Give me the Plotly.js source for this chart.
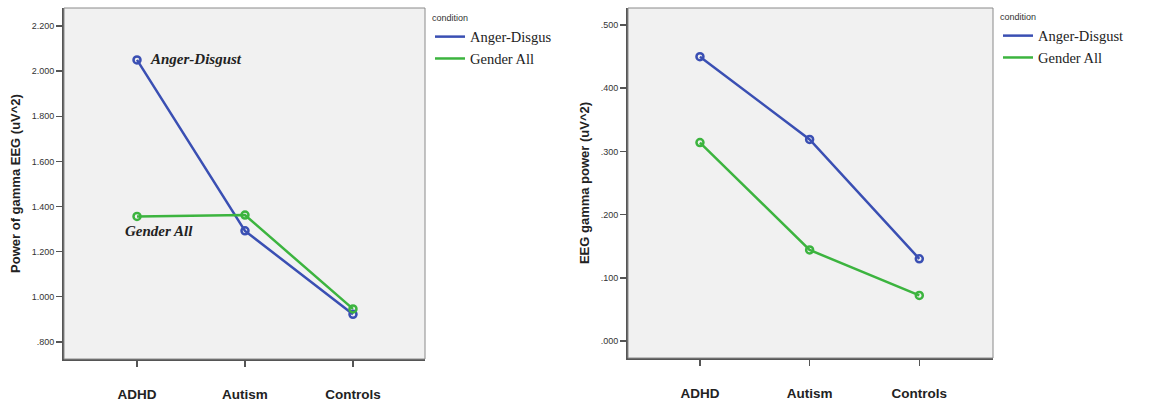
<!DOCTYPE html>
<html>
<head>
<meta charset="utf-8">
<script src="https://cdn.plot.ly/plotly-3.0.1.min.js"></script>
<style>html,body{margin:0;padding:0;background:#fff;}#chart{width:1151px;height:407px;}</style>
</head>
<body>
<div id="chart"></div>
<script>
const groups = ["ADHD", "Autism", "Controls"];
const leftAngerDisgust = [2.050, 1.292, 0.922];
const leftGenderAll = [1.356, 1.362, 0.946];
const rightAngerDisgust = [0.450, 0.319, 0.130];
const rightGenderAll = [0.314, 0.144, 0.072];
const leftTickVals = [0.8, 1.0, 1.2, 1.4, 1.6, 1.8, 2.0, 2.2];
const leftTickText = [".800", "1.000", "1.200", "1.400", "1.600", "1.800", "2.000", "2.200"];
const rightTickVals = [0.0, 0.1, 0.2, 0.3, 0.4, 0.5];
const rightTickText = [".000", ".100", ".200", ".300", ".400", ".500"];
const seriesNames = ["Anger-Disgus", "Gender All"];
const seriesNamesRight = ["Anger-Disgust", "Gender All"];

const BLUE = "#3a4fb3";
const GREEN = "#3cb43f";
const W = 1151, H = 407;

function lineTrace(x, y, color, name, xa, ya, legend, show) {
  return {x: x, y: y, type: "scatter", mode: "lines", name: name,
    line: {color: color, width: 2.5}, xaxis: xa, yaxis: ya, legend: legend,
    showlegend: show, hoverinfo: "skip"};
}
function markerTrace(x, y, color, xa, ya) {
  return {x: x, y: y, type: "scatter", mode: "markers", showlegend: false,
    marker: {symbol: "circle-open", size: 7, color: color, line: {color: color, width: 2.5}},
    xaxis: xa, yaxis: ya, hoverinfo: "skip"};
}

const data = [
  lineTrace(groups, leftAngerDisgust, BLUE, seriesNames[0], "x", "y", "legend", true),
  lineTrace(groups, leftGenderAll, GREEN, seriesNames[1], "x", "y", "legend", true),
  markerTrace(groups, leftAngerDisgust, BLUE, "x", "y"),
  markerTrace(groups, leftGenderAll, GREEN, "x", "y"),
  lineTrace(groups, rightAngerDisgust, BLUE, seriesNamesRight[0], "x2", "y2", "legend2", true),
  lineTrace(groups, rightGenderAll, GREEN, seriesNamesRight[1], "x2", "y2", "legend2", true),
  markerTrace(groups, rightAngerDisgust, BLUE, "x2", "y2"),
  markerTrace(groups, rightGenderAll, GREEN, "x2", "y2")
];

const tickFont = {family: "Liberation Sans, Arial", size: 9, color: "#333"};
const catFont = {family: "Liberation Sans, Arial", size: 13.5, color: "#222", weight: "bold"};
const titleFont = {family: "Liberation Sans, Arial", size: 13, color: "#222", weight: "bold"};

function xAxis(domain, range) {
  return {domain: domain, type: "category", range: range, showline: true, linecolor: "#555",
    linewidth: 2, ticks: "outside", ticklen: 6, tickcolor: "#555", tickwidth: 1.5,
    showgrid: false, zeroline: false, tickfont: catFont, ticklabelstandoff: 16, fixedrange: true};
}
function yAxis(domain, range, vals, text, title, anchor) {
  return {domain: domain, range: range, showline: true, linecolor: "#555", linewidth: 2,
    ticks: "outside", ticklen: 6, tickcolor: "#555", tickwidth: 1.5, showgrid: false,
    zeroline: false, tickmode: "array", tickvals: vals, ticktext: text, tickfont: tickFont,
    anchor: anchor, automargin: false,
    title: {text: title, font: titleFont, standoff: 8}, fixedrange: true};
}

const leftX = [64 / W, 425 / W], rightX = [628 / W, 993 / W];
const leftY = [1 - 359 / H, 1 - 8 / H], rightY = [1 - 358 / H, 1 - 8 / H];

const legendCommon = {
  yanchor: "top", xanchor: "left", bgcolor: "rgba(0,0,0,0)",
  font: {family: "Liberation Serif, Times New Roman", size: 14.5, color: "#222"},
  title: {text: "condition", font: {family: "Liberation Sans, Arial", size: 9, color: "#333"}},
  tracegroupgap: 0, itemwidth: 30
};

const layout = {
  width: W, height: H, margin: {l: 0, r: 0, t: 0, b: 0},
  paper_bgcolor: "#ffffff", plot_bgcolor: "#f1f1f1",
  xaxis: Object.assign(xAxis(leftX, [-0.676, 2.667]), {anchor: "y"}),
  yaxis: yAxis(leftY, [0.724, 2.28], leftTickVals, leftTickText, "Power of gamma EEG (uV^2)", "x"),
  xaxis2: Object.assign(xAxis(rightX, [-0.656, 2.672]), {anchor: "y2"}),
  yaxis2: yAxis(rightY, [-0.027, 0.527], rightTickVals, rightTickText, "EEG gamma power (uV^2)", "x2"),
  legend: Object.assign({}, legendCommon, {x: 430 / W, y: 1 - 9 / H}),
  legend2: Object.assign({}, legendCommon, {x: 998 / W, y: 1 - 8 / H}),
  shapes: [
    {type: "rect", xref: "paper", yref: "paper", x0: leftX[0], x1: leftX[1], y0: leftY[0], y1: leftY[1],
      line: {color: "#8a8a8a", width: 1}, layer: "above"},
    {type: "rect", xref: "paper", yref: "paper", x0: rightX[0], x1: rightX[1], y0: rightY[0], y1: rightY[1],
      line: {color: "#8a8a8a", width: 1}, layer: "above"}
  ],
  annotations: [
    {xref: "x", yref: "y", x: groups[0], y: leftAngerDisgust[0], text: "Anger-Disgust", showarrow: false,
      xanchor: "left", yanchor: "middle", xshift: 11, yshift: 1,
      font: {family: "Liberation Serif, Times New Roman", size: 15, color: "#222", style: "italic", weight: "bold"}},
    {xref: "x", yref: "y", x: groups[0], y: leftGenderAll[0], text: "Gender All", showarrow: false,
      xanchor: "left", yanchor: "middle", xshift: -14, yshift: -15,
      font: {family: "Liberation Serif, Times New Roman", size: 15, color: "#222", style: "italic", weight: "bold"}}
  ]
};

Plotly.newPlot("chart", data, layout, {displayModeBar: false, staticPlot: true});
</script>
</body>
</html>
